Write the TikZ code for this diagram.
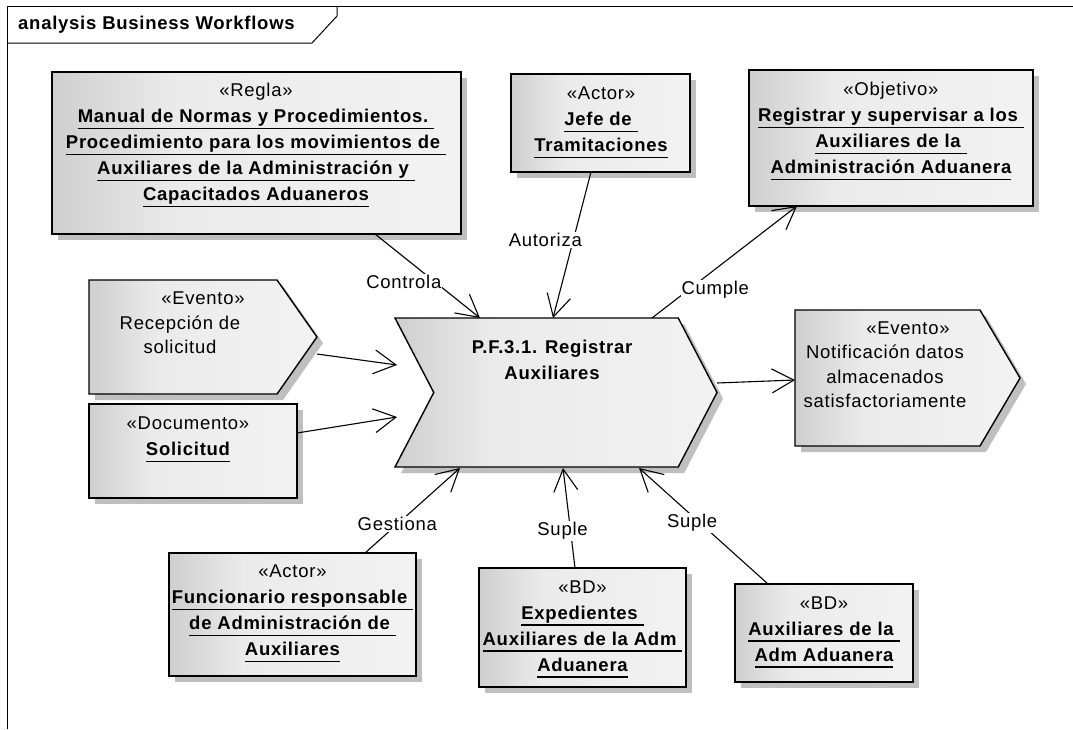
\documentclass[tikz,border=0pt]{standalone}
\usepackage{fontspec}
\setmainfont{Liberation Sans}[LetterSpace=4]
\usetikzlibrary{arrows.meta, shadows, shapes.symbols}
\pgfdeclarehorizontalshading{elshade}{100bp}{color(0bp)=(black!19); color(25bp)=(black!19);
  color(40bp)=(black!8); color(75bp)=(black!5); color(100bp)=(black!5)}
\newcommand{\undl}[1]{\setbox0\hbox{#1}\rlap{\rule[-6.5pt]{\wd0}{1.4pt}}\box0}
\newcommand{\nm}[1]{\undl{\bfseries #1}}
\tikzset{element/.style={draw, line width=1.4pt, inner sep=0pt, shade, shading=elshade,
    drop shadow={shadow xshift=6pt, shadow yshift=-6pt, fill=black!25, opacity=1}},
  box/.style={element, rectangle},
  event/.style={element, signal, signal to=east, signal from=nowhere},
  process/.style={element, signal, signal to=east, signal from=west},
  txt/.style={align=center, inner sep=0pt, font=\fontsize{18.5}{26}\selectfont},
  evtxt/.style={txt, font=\fontsize{18.5}{24.5}\selectfont},
  pftxt/.style={txt, font=\fontsize{18.5}{26}\selectfont\bfseries},
  flow/.style={draw, line width=1.1pt, -{Straight Barb[length=22pt,width=24pt]}},
  lbl/.style={fill=white, inner sep=1pt, font=\fontsize{18.5}{22}\selectfont}}

\begin{document}
\begin{tikzpicture}[x=1pt, y=-1pt]
  \useasboundingbox (0,0) rectangle (1073,729);

  % Frame
  \draw[line width=1pt] (1073,6) -- (7,6) -- (7,729);
  \draw[line width=1pt] (7,43) -- (312,43) -- (337,16) -- (337,6);
  \node[anchor=west, inner sep=0pt, font=\fontsize{18.5}{22}\selectfont\bfseries] (title) at (18,25) {analysis Business Workflows};

  % Shapes
  \node[box, minimum width=409, minimum height=162] (regla) at (256.5,153) {};
  \node[box, minimum width=179, minimum height=98] (jefe) at (600.5,123) {};
  \node[box, minimum width=284, minimum height=136] (objetivo) at (891,138) {};
  \node[event, signal pointer angle=110, minimum width=228, minimum height=114] (recepcion) at (183,337) {};
  \node[box, minimum width=208, minimum height=94] (documento) at (193,451) {};
  \node[process, signal pointer angle=125, minimum width=322, minimum height=149] (pf) at (556,392.5) {};
  \node[event, signal pointer angle=119, minimum width=225, minimum height=136] (notif) at (887.5,378) {};
  \node[box, minimum width=247, minimum height=123] (func) at (292.5,614.5) {};
  \node[box, minimum width=207, minimum height=119] (exped) at (582.5,627.5) {};
  \node[box, minimum width=178, minimum height=98] (bd) at (824,633) {};

  % Texts
  \node[txt] (regla-t) at (256,145.5) {«Regla»\\
    \nm{Manual de Normas y Procedimientos.\ }\\
    \nm{Procedimiento para los movimientos de\ }\\
    \nm{Auxiliares de la Administración y\ }\\
    \nm{Capacitados Aduaneros}};
  \node[txt] (jefe-t) at (601,122.5) {«Actor»\\ \nm{Jefe de\ }\\ \nm{Tramitaciones}};
  \node[txt] (objetivo-t) at (891,131) {«Objetivo»\\
    \nm{Registrar y supervisar a los\ }\\
    \nm{Auxiliares de la\ }\\
    \nm{Administración Aduanera}};
  \node[evtxt] (recepcion-t) at (180,323) {\hspace*{46pt}«Evento»\\Recepción de\\solicitud};
  \node[txt] (documento-t) at (188,439.5) {«Documento»\\ \nm{Solicitud}};
  \node[pftxt] (pf-t) at (552,360) {P.F.3.1. Registrar\\Auxiliares};
  \node[evtxt] (notif-t) at (885,364.5) {\hspace*{46pt}«Evento»\\Notificación datos\\almacenados\\satisfactoriamente};
  \node[txt] (func-t) at (292.5,613.5) {«Actor»\\
    \nm{Funcionario responsable\ }\\
    \nm{de Administración de\ }\\
    \nm{Auxiliares}};
  \node[txt] (exped-t) at (582.5,629) {«BD»\\
    \nm{Expedientes\ }\\
    \nm{Auxiliares de la Adm\ }\\
    \nm{Aduanera}};
  \node[txt] (bd-t) at (824,632) {«BD»\\ \nm{Auxiliares de la\ }\\ \nm{Adm Aduanera}};

  % Connectors
  \draw[flow] ([shift={(118.5,81)}]regla.center) -- node[lbl, pos=0.57, xshift=-31pt] (controla) {Controla} ([shift={(-76,-74.5)}]pf.center);
  \draw[flow] ([shift={(-9.5,49)}]jefe.center) -- node[lbl, pos=0.466, xshift=-28pt] (autoriza) {Autoriza} ([shift={(-3,-74.5)}]pf.center);
  \draw[flow] ([shift={(96,-74.5)}]pf.center) -- node[lbl, pos=0.25, xshift=27pt] (cumple) {Cumple} ([shift={(-94,68)}]objetivo.center);
  \draw[flow] ([shift={(134,17)}]recepcion.center) -- ([shift={(-159,-27.5)}]pf.center);
  \draw[flow] ([shift={(104,-18)}]documento.center) -- ([shift={(-159,24.5)}]pf.center);
  \draw[flow] ([shift={(161,-9.5)}]pf.center) -- ([shift={(-92.5,2)}]notif.center);
  \draw[flow] ([shift={(72.5,-61.5)}]func.center) -- node[lbl, pos=0.34] (gestiona) {Gestiona} ([shift={(-96,75.5)}]pf.center);
  \draw[flow] ([shift={(-7.5,-59.5)}]exped.center) -- node[lbl, pos=0.37, xshift=-8pt] (suple-a) {Suple} ([shift={(7,75.5)}]pf.center);
  \draw[flow] ([shift={(-56,-49)}]bd.center) -- node[lbl, pos=0.526, xshift=-8pt] (suple-b) {Suple} ([shift={(83,75.5)}]pf.center);

\end{tikzpicture}
\end{document}
